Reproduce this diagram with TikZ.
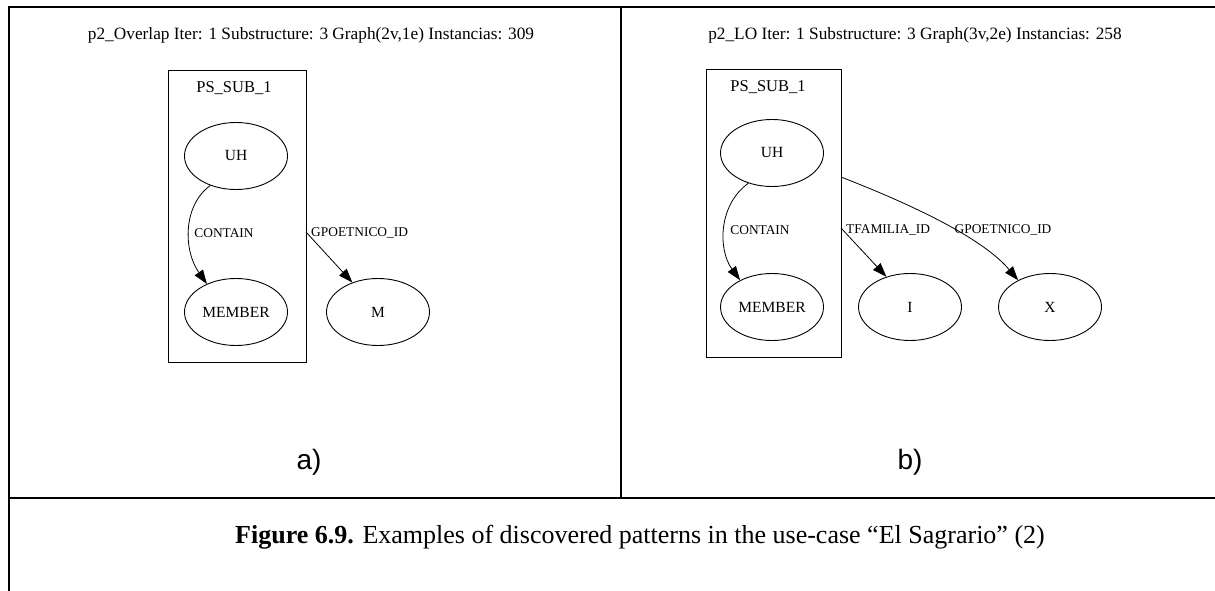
\documentclass[tikz,border=0pt]{standalone}
\usepackage{fontspec}
\setmainfont{Liberation Serif}
\newfontfamily\labelfont{Liberation Sans}
\usetikzlibrary{arrows.meta,shapes.geometric}

\begin{document}
\begin{tikzpicture}[x=1pt,y=-1pt,
  rule/.style={line width=2pt},
  cluster/.style={draw, line width=0.9pt, inner sep=0pt},
  gnode/.style={draw, ellipse, line width=0.9pt, minimum width=103pt, minimum height=67pt,
    inner sep=0pt, font=\fontsize{15.5}{16}\selectfont},
  clabel/.style={font=\fontsize{16.5}{17}\selectfont, inner sep=0pt},
  elabel/.style={font=\fontsize{13.4}{14}\selectfont, inner sep=0pt},
  gtitle/.style={font=\fontsize{17.3}{18}\selectfont, inner sep=0pt},
  sublabel/.style={font=\labelfont\fontsize{28}{30}\selectfont, inner sep=0pt},
  caption/.style={font=\fontsize{26}{28}\selectfont, inner sep=0pt},
  gedge/.style={line width=0.8pt, -{Triangle[length=14pt,width=10pt]}}
]
\useasboundingbox (0,0) rectangle (1215,591);

% table rules
\coordinate (tl) at (8.5,7.5);
\coordinate (tr) at (1216,7.5);
\coordinate (bl) at (8.5,592);
\coordinate (mt) at (621,7.5);
\coordinate (mb) at (621,498);
\coordinate (hl) at (8.5,498);
\coordinate (hr) at (1216,498);
\draw[rule] (tr) -- (tl) -- (bl);
\draw[rule] (mt) -- (mb);
\draw[rule] (hl) -- (hr);

% ---- left graph ----
\node[gtitle] (titleA) at (311,35) {p2\_Overlap Iter: 1 Substructure: 3 Graph(2v,1e) Instancias: 309};
\node[cluster, minimum width=138pt, minimum height=292pt] (boxA) at (237,216) {};
\node[clabel] (psA) at (234,88) {PS\_SUB\_1};
\node[gnode] (uhA) at (236,156) {UH};
\node[gnode] (memA) at (236,312) {MEMBER};
\node[gnode] (mA) at (378,312) {M};
\coordinate (gA) at (306,232);
\draw[gedge] (uhA.229) .. controls (183,205) and (183,250) .. (memA.136);
\draw[gedge] (gA) -- (mA.131);
\node[elabel] (containA) at (224,233) {CONTAIN};
\node[elabel, anchor=west] (gpoA) at (311,233) {GPOETNICO\_ID};

% ---- right graph ----
\node[gtitle] (titleB) at (915,35) {p2\_LO Iter: 1 Substructure: 3 Graph(3v,2e) Instancias: 258};
\node[cluster, minimum width=135pt, minimum height=288pt] (boxB) at (773.5,213) {};
\node[clabel] (psB) at (768,87) {PS\_SUB\_1};
\node[gnode] (uhB) at (772,153) {UH};
\node[gnode] (memB) at (772,307) {MEMBER};
\node[gnode] (iB) at (910,307) {I};
\node[gnode] (xB) at (1050,307) {X};
\coordinate (tB) at (841,228);
\coordinate (gB) at (841,177);
\draw[gedge] (uhB.232) .. controls (718,205) and (718,250) .. (memB.140);
\draw[gedge] (tB) -- (iB.128);
\draw[gedge] (gB) .. controls (900,200) and (980,235) .. (xB.140);
\node[elabel] (containB) at (760,230) {CONTAIN};
\node[elabel, anchor=west] (tfB) at (846,230) {TFAMILIA\_ID};
\node[elabel] (gpoB) at (1003,230) {GPOETNICO\_ID};

% ---- sub-figure labels and caption ----
\node[sublabel] (la) at (309,462) {a)};
\node[sublabel] (lb) at (910,462) {b)};
\node[caption] (cap) at (640,537) {\textbf{Figure 6.9.} Examples of discovered patterns in the use-case “El Sagrario” (2)};
\end{tikzpicture}
\end{document}
